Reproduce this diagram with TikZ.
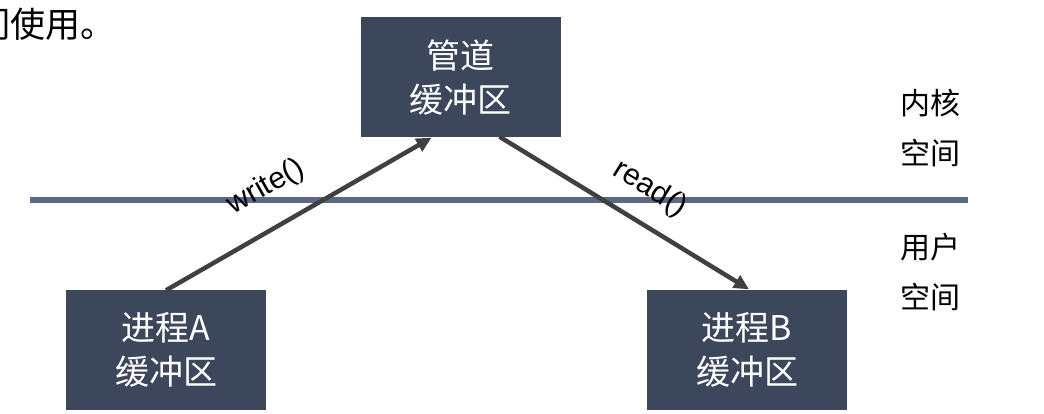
\documentclass[tikz,border=0pt]{standalone}
\usepackage{fontspec}
\setmainfont{Noto Sans CJK SC}
\newfontfamily\labelfont{Liberation Sans}
\usetikzlibrary{arrows.meta}
\definecolor{boxfill}{HTML}{3D475C}
\definecolor{sepline}{HTML}{5B6985}
\definecolor{arrowc}{HTML}{404040}
\tikzset{
  bufbox/.style={rectangle, fill=boxfill, text=white, minimum width=200pt, minimum height=120pt,
    align=center, inner sep=0pt, font=\fontsize{34pt}{44pt}\selectfont},
  sidelabel/.style={align=center, inner sep=0pt, font=\fontsize{30pt}{50pt}\selectfont},
  callarrow/.style={draw=arrowc, line width=4.5pt, -{Triangle[length=15pt,width=14pt]}},
  calllabel/.style={inner sep=0pt, font=\labelfont\fontsize{30pt}{36pt}\selectfont},
}
\begin{document}
\begin{tikzpicture}[x=1pt,y=-1pt]
\useasboundingbox (0,0) rectangle (1044,414);
\clip (0,0) rectangle (1044,414);
\node[anchor=base west, inner sep=0pt, font=\fontsize{35pt}{40pt}\selectfont] (top) at (-25,38) {们使用。};
\coordinate (Ls) at (30,200);
\coordinate (Le) at (968,200);
\draw[sepline, line width=6pt] (Ls) -- (Le);
\node[bufbox] (P) at (460.5,77.5) {管道\\缓冲区};
\node[bufbox] (A) at (166,349.5) {进程A\\缓冲区};
\node[bufbox] (B) at (747,349.5) {进程B\\缓冲区};
\draw[callarrow] ([yshift=-1pt]A.north) -- ([xshift=-29pt]P.south);
\draw[callarrow] ([xshift=39pt,yshift=1pt]P.south) -- ([xshift=2pt]B.north);
\node[calllabel, rotate=29.4] (w) at (266,187) {write()};
\node[calllabel, rotate=-31.4] (r) at (650,189) {read()};
\node[sidelabel] (k) at (930,128) {内核\\空间};
\node[sidelabel] (u) at (930,272) {用户\\空间};
\end{tikzpicture}
\end{document}
